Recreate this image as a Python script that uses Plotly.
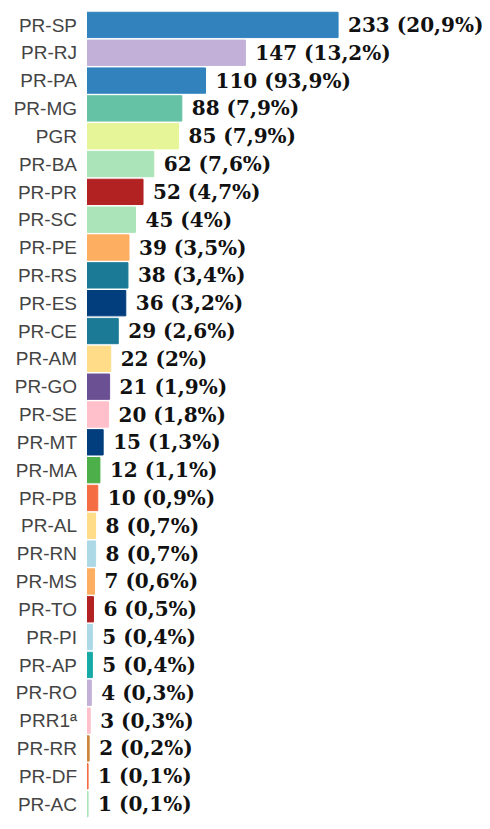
import plotly.graph_objects as go

categories = ["PR-SP", "PR-RJ", "PR-PA", "PR-MG", "PGR", "PR-BA", "PR-PR", "PR-SC", "PR-PE",
              "PR-RS", "PR-ES", "PR-CE", "PR-AM", "PR-GO", "PR-SE", "PR-MT", "PR-MA", "PR-PB",
              "PR-AL", "PR-RN", "PR-MS", "PR-TO", "PR-PI", "PR-AP", "PR-RO", "PRR1ª", "PR-RR",
              "PR-DF", "PR-AC"]
values = [233, 147, 110, 88, 85, 62, 52, 45, 39, 38, 36, 29, 22, 21, 20, 15, 12, 10, 8, 8, 7, 6,
          5, 5, 4, 3, 2, 1, 1]
percent_labels = ["20,9%", "13,2%", "93,9%", "7,9%", "7,9%", "7,6%", "4,7%", "4%", "3,5%", "3,4%",
                  "3,2%", "2,6%", "2%", "1,9%", "1,8%", "1,3%", "1,1%", "0,9%", "0,7%", "0,7%",
                  "0,6%", "0,5%", "0,4%", "0,4%", "0,3%", "0,3%", "0,2%", "0,1%", "0,1%"]
colors = ["#3182bd", "#c2b0d8", "#3182bd", "#66c2a5", "#e6f598", "#abe4b8", "#b22222", "#abe4b8",
          "#fdae61", "#1b7b96", "#023e7d", "#1b7b96", "#fedc88", "#6b5194", "#ffc0cb", "#023e7d",
          "#4daf4a", "#f46d43", "#fedc88", "#add8e6", "#fdae61", "#b22222", "#add8e6", "#17a9a5",
          "#c2b0d8", "#ffc0cb", "#cd853f", "#f46d43", "#abe4b8"]

texts = ["\u00a0" + f"{v} ({p})" for v, p in zip(values, percent_labels)]

fig = go.Figure(go.Bar(
    x=values,
    y=categories,
    orientation="h",
    marker=dict(color=colors, line=dict(color=colors, width=1)),
    text=texts,
    textposition="outside",
    cliponaxis=False,
    textfont=dict(family="DejaVu Serif", size=20, color="#111111", weight="bold"),
    hoverinfo="skip",
))

# The page body adds an 8px offset; the figure is sized so the plot lands where the reference has it.
fig.update_layout(
    width=482,
    height=821,
    margin=dict(l=79, r=0, t=3, b=11, autoexpand=False),
    plot_bgcolor="white",
    paper_bgcolor="white",
    bargap=0.09,
    showlegend=False,
    xaxis=dict(range=[0, 374], visible=False, showgrid=False, zeroline=False),
    yaxis=dict(
        categoryorder="array",
        categoryarray=categories,
        autorange="reversed",
        showgrid=False,
        zeroline=False,
        showline=False,
        ticks="",
        ticklabelstandoff=9,
        tickfont=dict(family="Liberation Sans, Arial", size=19, color="#444444"),
        automargin=False,
    ),
)

fig.write_html("out.html")
